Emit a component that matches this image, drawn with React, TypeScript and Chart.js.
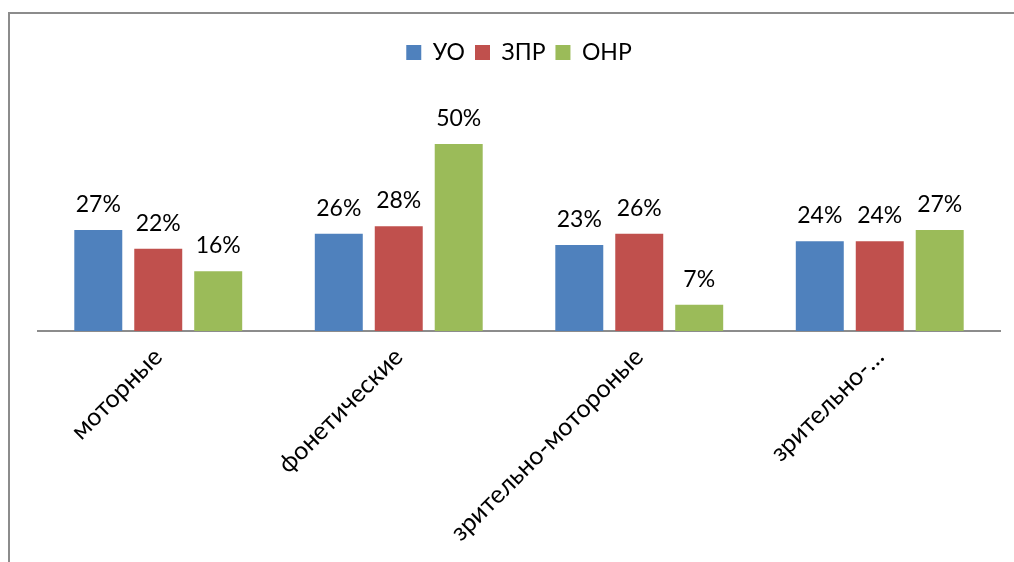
import React, { useEffect, useRef } from "react";
import { Chart, registerables } from "chart.js";

Chart.register(...registerables);

const categories = ["моторные", "фонетические", "зрительно-мотороные", "зрительно-…"];
const seriesNames = ["УО", "ЗПР", "ОНР"];
const uoValues = [27, 26, 23, 24];
const zprValues = [22, 28, 26, 24];
const onrValues = [16, 50, 7, 27];
const seriesColors = ["#4F81BD", "#C0504D", "#9BBB59"];

const FONT = "Lato, 'Noto Sans', sans-serif";

const borderPlugin = {
  id: "frameBorder",
  beforeDraw(chart: any) {
    const ctx = chart.ctx;
    ctx.save();
    ctx.strokeStyle = "#8c8c8c";
    ctx.lineWidth = 2;
    ctx.beginPath();
    ctx.moveTo(9, 562);
    ctx.lineTo(9, 13);
    ctx.lineTo(1014, 13);
    ctx.stroke();
    ctx.restore();
  },
};

const labelPlugin = {
  id: "valueLabels",
  afterDatasetsDraw(chart: any) {
    const ctx = chart.ctx;
    ctx.save();
    ctx.font = `23px ${FONT}`;
    ctx.fillStyle = "#000";
    ctx.textAlign = "center";
    ctx.textBaseline = "alphabetic";
    chart.data.datasets.forEach((ds: any, i: number) => {
      const meta = chart.getDatasetMeta(i);
      meta.data.forEach((el: any, j: number) => {
        ctx.fillText(ds.data[j] + "%", el.x, el.y - 18);
      });
    });
    ctx.restore();
  },
};

export default function App() {
  const ref = useRef<HTMLCanvasElement>(null);
  useEffect(() => {
    if (!ref.current) return;
    const all = [uoValues, zprValues, onrValues];
    const chart = new Chart(ref.current, {
      type: "bar",
      data: {
        labels: categories,
        datasets: all.map((vals, i) => ({
          label: seriesNames[i],
          data: vals,
          backgroundColor: seriesColors[i],
          borderWidth: 0,
          categoryPercentage: 0.748,
          barPercentage: 0.8,
        })),
      },
      options: {
        animation: false,
        responsive: false,
        devicePixelRatio: 1,
        layout: { padding: { left: 38, right: 14, top: 31, bottom: 0 } },
        plugins: {
          legend: {
            position: "top",
            labels: {
              boxWidth: 15,
              boxHeight: 15,
              padding: 10,
              color: "#000",
              font: { family: FONT, size: 23 },
            },
          },
          tooltip: { enabled: false },
        },
        scales: {
          x: {
            grid: { display: false },
            border: { color: "#8c8c8c", width: 2 },
            ticks: {
              color: "#000",
              font: { family: FONT, size: 25 },
              minRotation: 45,
              maxRotation: 45,
              autoSkip: false,
            },
            afterFit(scale: any) {
              scale.height = 231;
            },
          },
          y: {
            display: false,
            min: 0,
            max: 68.7,
          },
        },
      },
      plugins: [borderPlugin, labelPlugin],
    });
    return () => chart.destroy();
  }, []);
  return (
    <div style={{ position: "fixed", left: 0, top: 0, width: 1014, height: 562, background: "#fff" }}>
      <canvas ref={ref} width={1014} height={562} style={{ width: 1014, height: 562 }} />
    </div>
  );
}
